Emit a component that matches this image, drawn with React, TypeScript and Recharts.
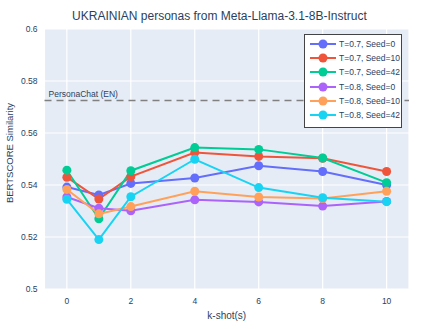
import React from "react";
import {
  LineChart,
  Line,
  XAxis,
  YAxis,
  CartesianGrid,
  ReferenceLine,
  Label,
} from "recharts";

const FONT = "'Liberation Sans', Arial, sans-serif";
const TEXT = "#2a3f5f";

const kShots = [0, 1, 2, 4, 6, 8, 10];
const xTicks = [0, 2, 4, 6, 8, 10];
const yTicks = [0.5, 0.52, 0.54, 0.56, 0.58, 0.6];

const t07s0 = [0.5392, 0.5362, 0.5406, 0.5427, 0.5474, 0.5452, 0.54];
const t07s10 = [0.543, 0.5346, 0.5432, 0.5525, 0.551, 0.5503, 0.5452];
const t07s42 = [0.5457, 0.527, 0.5455, 0.5544, 0.5537, 0.5504, 0.5409];
const t08s0 = [0.5354, 0.5311, 0.5301, 0.5343, 0.5335, 0.5319, 0.5337];
const t08s10 = [0.5383, 0.5289, 0.5317, 0.5376, 0.5354, 0.5348, 0.5376];
const t08s42 = [0.5345, 0.519, 0.5355, 0.5499, 0.539, 0.5351, 0.5336];

const personaChatEN = 0.5725;

const SERIES = [
  { key: "T=0.7, Seed=0", values: t07s0, color: "#636efa" },
  { key: "T=0.7, Seed=10", values: t07s10, color: "#EF553B" },
  { key: "T=0.7, Seed=42", values: t07s42, color: "#00cc96" },
  { key: "T=0.8, Seed=0", values: t08s0, color: "#ab63fa" },
  { key: "T=0.8, Seed=10", values: t08s10, color: "#FFA15A" },
  { key: "T=0.8, Seed=42", values: t08s42, color: "#19d3f3" },
];

const data = kShots.map((k, i) => {
  const row: Record<string, number> = { k };
  for (const s of SERIES) row[s.key] = s.values[i];
  return row;
});

function LegendBox() {
  return (
    <div
      style={{
        position: "absolute",
        left: 304,
        top: 34,
        width: 96,
        height: 90,
        border: "1px solid #444",
        background: "#fff",
        boxSizing: "content-box",
        paddingTop: 2,
      }}
    >
      {SERIES.map((s) => (
        <div key={s.key} style={{ display: "flex", alignItems: "center", height: 14.2 }}>
          <svg width={30} height={12} style={{ marginLeft: 3 }}>
            <line x1={2} y1={6} x2={28} y2={6} stroke={s.color} strokeWidth={2} />
            <circle cx={15} cy={6} r={4.5} fill={s.color} />
          </svg>
          <span style={{ fontFamily: FONT, fontSize: 8.5, color: TEXT, marginLeft: 1 }}>{s.key}</span>
        </div>
      ))}
    </div>
  );
}

export default function App() {
  return (
    <div style={{ position: "absolute", left: 0, top: 0, width: 439, height: 329, background: "#fff" }}>
      <div
        style={{
          position: "absolute",
          left: 0,
          top: 9,
          width: 439,
          textAlign: "center",
          fontFamily: FONT,
          fontSize: 12,
          color: TEXT,
        }}
      >
        UKRAINIAN personas from Meta-Llama-3.1-8B-Instruct
      </div>
      <LineChart
        width={439}
        height={329}
        data={data}
        margin={{ top: 29, right: 30, bottom: 10, left: 0 }}
      >
        <CartesianGrid stroke="#fff" strokeWidth={1.2} fill="#E5ECF6" fillOpacity={1} />
        <XAxis
          dataKey="k"
          type="number"
          domain={[-0.7, 10.7]}
          ticks={xTicks}
          allowDataOverflow
          axisLine={false}
          tickLine={false}
          height={30}
          tick={{ fill: TEXT, fontSize: 8.5, fontFamily: FONT }}
          tickMargin={3}
        >
          <Label
            value="k-shot(s)"
            position="insideBottom"
            offset={0}
            style={{ fill: TEXT, fontSize: 10, fontFamily: FONT }}
          />
        </XAxis>
        <YAxis
          type="number"
          domain={[0.5, 0.6]}
          ticks={yTicks}
          allowDataOverflow
          axisLine={false}
          tickLine={false}
          width={44.5}
          tickMargin={1}
          tickFormatter={(v: number) => String(Number(v.toFixed(2)))}
          tick={{ fill: TEXT, fontSize: 8.5, fontFamily: FONT }}
        />
        <ReferenceLine
          y={personaChatEN}
          stroke="#808080"
          strokeWidth={1.5}
          strokeDasharray="7 5"
        >
          <Label
            value="PersonaChat (EN)"
            position="insideBottomLeft"
            offset={4}
            style={{ fill: TEXT, fontSize: 8.5, fontFamily: FONT }}
          />
        </ReferenceLine>
        {SERIES.map((s) => (
          <Line
            key={s.key}
            dataKey={s.key}
            stroke={s.color}
            strokeWidth={2}
            dot={{ r: 4.5, fill: s.color, stroke: s.color, strokeWidth: 0 }}
            activeDot={false}
            isAnimationActive={false}
          />
        ))}
      </LineChart>
      <div
        style={{
          position: "absolute",
          left: -90,
          top: 148,
          width: 200,
          height: 10,
          lineHeight: "10px",
          textAlign: "center",
          transform: "rotate(-90deg)",
          transformOrigin: "center",
          fontFamily: FONT,
          fontSize: 9.5,
          color: TEXT,
          whiteSpace: "nowrap",
        }}
      >
        BERTSCORE Similarity
      </div>
      <LegendBox />
    </div>
  );
}
